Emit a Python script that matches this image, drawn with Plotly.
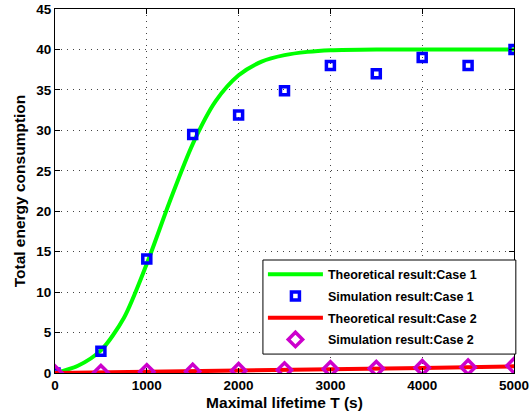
import plotly.graph_objects as go

# Theoretical curve, Case 1
theo1_x = [0, 250, 500, 750, 1000, 1250, 1500, 1750, 2000, 2250, 2500, 2750, 3000, 3500, 4000, 4500, 5000]
theo1_y = [0, 0.9, 2.8, 6.8, 13.5, 21.2, 28.3, 33.6, 36.8, 38.5, 39.3, 39.7, 39.9, 40.0, 40.0, 40.0, 40.0]

# Simulation, Case 1
sim_x = [0, 500, 1000, 1500, 2000, 2500, 3000, 3500, 4000, 4500, 5000]
sim1_y = [0, 2.7, 14.1, 29.5, 31.9, 34.9, 38.0, 37.0, 39.0, 38.0, 40.0]

# Theoretical curve, Case 2
theo2_x = [0, 1000, 2000, 3000, 4000, 5000]
theo2_y = [0, 0.12, 0.28, 0.45, 0.62, 0.82]

# Simulation, Case 2
sim2_y = [0, 0.05, 0.15, 0.2, 0.29, 0.37, 0.5, 0.55, 0.65, 0.72, 0.9]

x_ticks = [0, 1000, 2000, 3000, 4000, 5000]
y_ticks = [0, 5, 10, 15, 20, 25, 30, 35, 40, 45]

FONT = "Liberation Sans, Arial, sans-serif"

fig = go.Figure()
fig.add_trace(go.Scatter(x=theo1_x, y=theo1_y, mode="lines", name="Theoretical result:Case 1",
                         legendgroup="a",
                         line=dict(color="#00ff00", width=4, shape="spline", smoothing=0.8)))
fig.add_trace(go.Scatter(x=sim_x, y=sim1_y, mode="markers", name="Simulation result:Case 1",
                         legendgroup="b",
                         marker=dict(symbol="square-open", size=8, color="#0000ff",
                                     line=dict(color="#0000ff", width=3.5))))
fig.add_trace(go.Scatter(x=theo2_x, y=theo2_y, mode="lines", name="Theoretical result:Case 2",
                         legendgroup="c",
                         line=dict(color="#ff0000", width=4)))
fig.add_trace(go.Scatter(x=sim_x, y=sim2_y, mode="markers", name="Simulation result:Case 2",
                         legendgroup="d",
                         marker=dict(symbol="diamond-open", size=11, color="#cc00cc",
                                     line=dict(color="#cc00cc", width=3.5))))

axis_common = dict(
    showline=True, linecolor="black", linewidth=1, mirror="ticks",
    ticks="inside", ticklen=5, tickcolor="black", tickwidth=1,
    showgrid=True, gridcolor="#444444", gridwidth=1, griddash="1px,5px",
    zeroline=False, automargin=False,
    tickfont=dict(family=FONT, size=13.5, color="black", weight="bold"),
)

fig.update_xaxes(range=[0, 5000], tickvals=x_ticks, ticktext=[str(v) for v in x_ticks],
                 title=dict(text="Maximal lifetime T (s)", standoff=4,
                            font=dict(family=FONT, size=15.5, color="black", weight="bold")),
                 **axis_common)
fig.update_yaxes(range=[0, 45], tickvals=y_ticks, ticktext=[str(v) for v in y_ticks],
                 title=dict(text="Total energy consumption", standoff=6,
                            font=dict(family=FONT, size=15.5, color="black", weight="bold")),
                 **axis_common)

# legend frame (MATLAB-style box with wide right padding)
fig.add_shape(type="rect", xref="paper", yref="paper",
              x0=0.453, x1=1.004, y0=0.052, y1=0.3104,
              fillcolor="white", line=dict(color="black", width=1), layer="above")

fig.update_layout(
    width=530, height=416,
    margin=dict(l=55, r=16, t=9, b=43),
    plot_bgcolor="white", paper_bgcolor="white",
    showlegend=True,
    legend=dict(x=0.453, xanchor="left", y=0.181, yanchor="middle",
                bgcolor="rgba(0,0,0,0)", borderwidth=0,
                font=dict(family=FONT, size=12.5, color="black", weight="bold"),
                itemwidth=55, tracegroupgap=2.5),
)

fig.write_html("out.html")
